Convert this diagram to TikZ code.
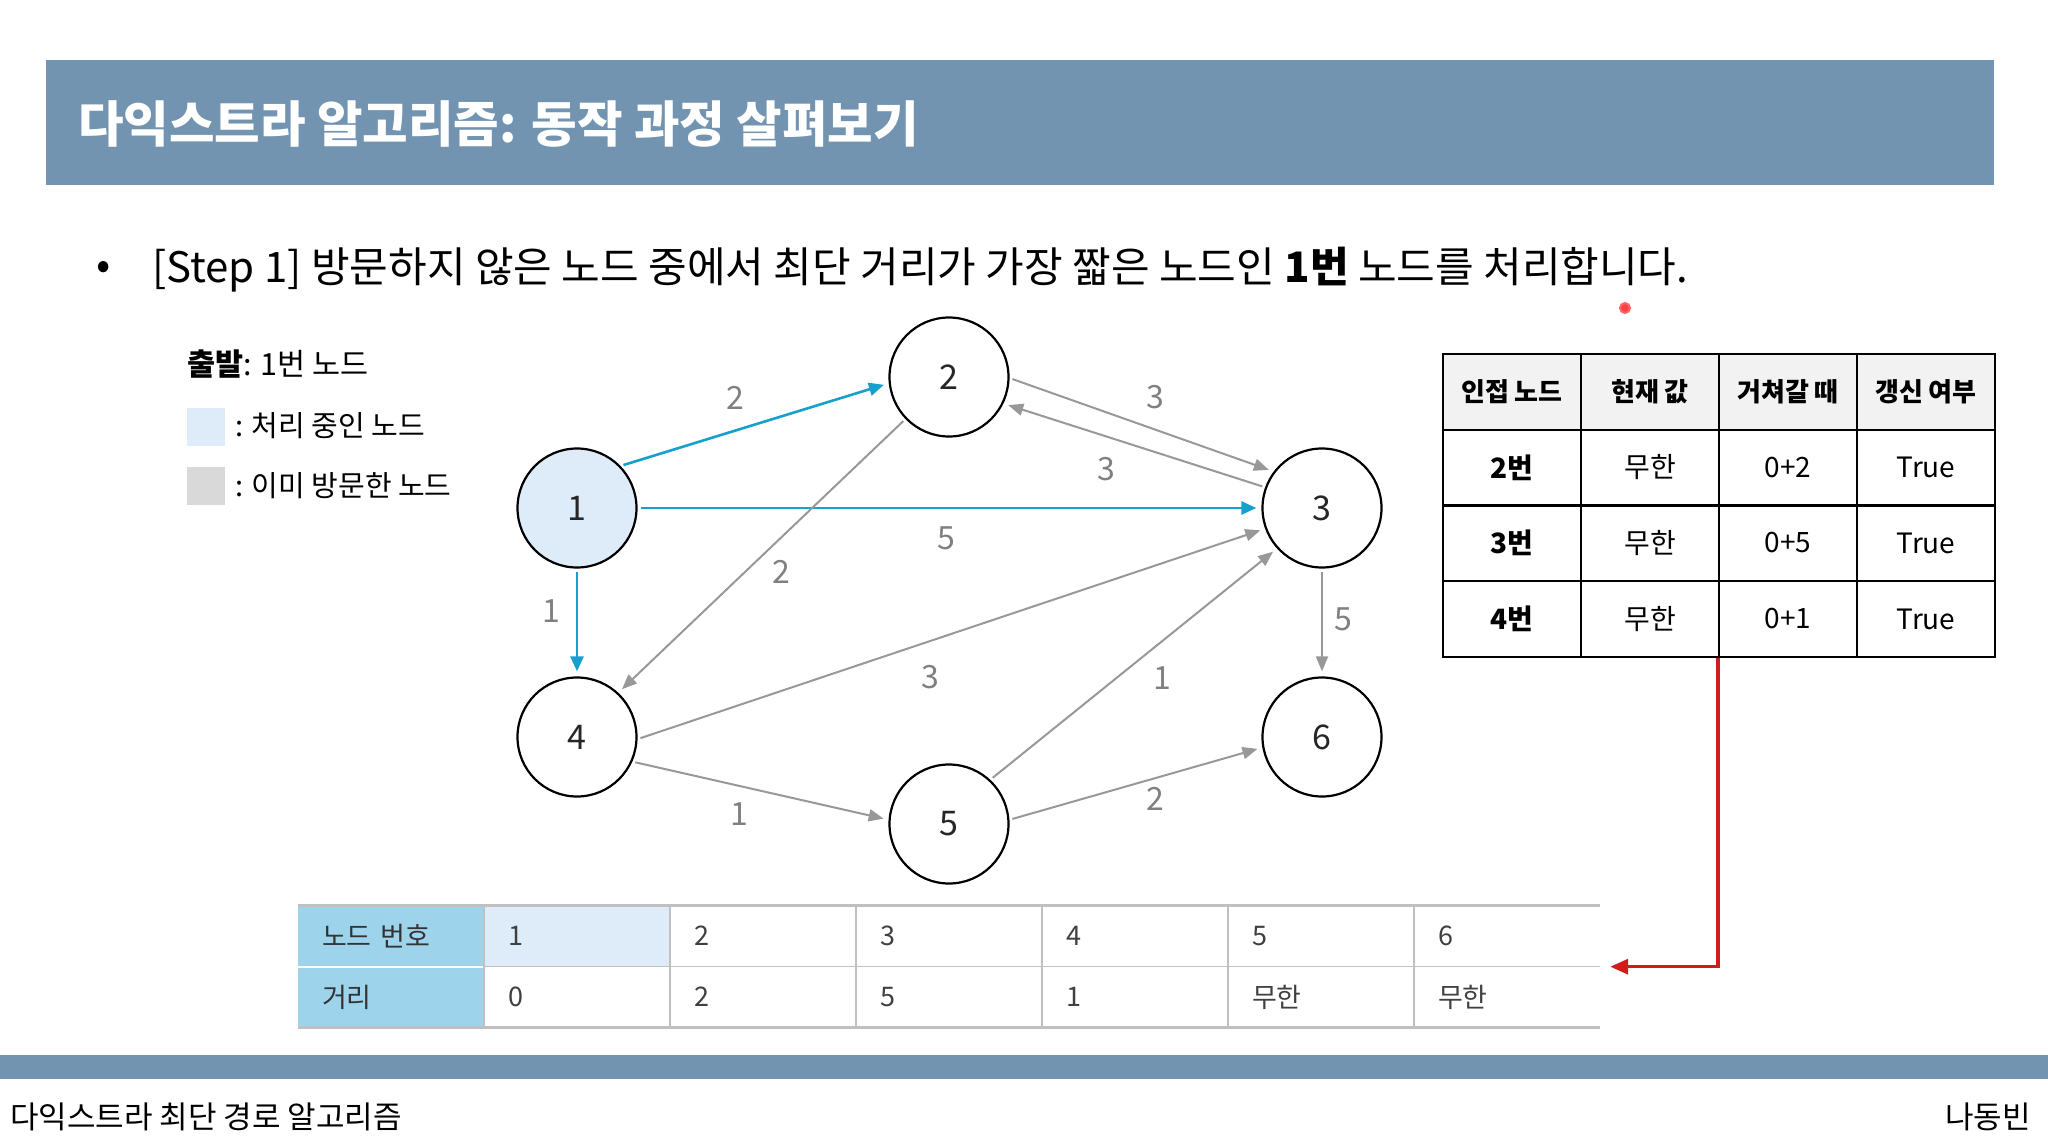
\documentclass[tikz,border=0pt]{standalone}
\usepackage{fontspec}
\setmainfont{Noto Sans CJK KR}
\usepackage{xcolor}
\usepackage{tikz}
\usetikzlibrary{arrows.meta,positioning,calc}

\definecolor{barblue}{RGB}{114,148,177}
\definecolor{edgeblue}{RGB}{24,160,204}
\definecolor{edgegray}{RGB}{152,152,152}
\definecolor{nowfill}{RGB}{221,236,248}
\definecolor{donefill}{RGB}{217,217,217}
\definecolor{headgray}{RGB}{242,242,242}
\definecolor{skyhead}{RGB}{157,212,236}
\definecolor{gridgray}{RGB}{192,192,192}
\definecolor{pathred}{RGB}{210,28,28}

\begin{document}
\begin{tikzpicture}[
      x=1pt, y=-1pt, % coordenadas em pixels da imagem
      vertex/.style={circle, draw=black, line width=2.2pt, minimum size=119pt,
        inner sep=0pt, font=\fontsize{34}{34}\selectfont, text=black!85},
      blueedge/.style={-{Triangle[length=15pt,width=13pt]}, edgeblue, line width=2.6pt,
        shorten >=5pt, shorten <=3pt},
      grayedge/.style={-{Triangle[length=15pt,width=12pt]}, edgegray, line width=2pt,
        shorten >=5pt, shorten <=3pt},
      wlabel/.style={font=\fontsize{32}{32}\selectfont, text=black!50, inner sep=0pt},
      thcell/.style={rectangle, draw=black, line width=2pt, fill=headgray,
        minimum width=138pt, minimum height=76pt, font=\fontsize{26}{26}\selectfont\bfseries},
      tdcell/.style={rectangle, draw=black, line width=2pt,
        minimum width=138pt, minimum height=76pt, font=\fontsize{28}{28}\selectfont},
      dcell/.style={rectangle, inner xsep=24pt, inner ysep=0pt, text width=138pt,
        minimum height=61pt, align=left, font=\fontsize{27}{27}\selectfont, text=black!75},
      gridline/.style={gridgray, line width=1.5pt},
      legendbox/.style={rectangle, minimum size=38pt, inner sep=0pt},
      plain/.style={anchor=west, inner sep=0pt},
      >=Stealth,
  ]
      \useasboundingbox (0,0) rectangle (2048,1148);

      % --- TITULO ---
      \node[rectangle, fill=barblue, minimum width=1948pt, minimum height=125pt,
        inner sep=0pt] (titlebar) at (1020,122.5) {};
      \node[plain, text=white, font=\fontsize{49.5}{49.5}\selectfont\bfseries] (title) at (78,124)
        {다익스트라 알고리즘: 동작 과정 살펴보기};

      % --- TEXTO PRINCIPAL ---
      \node[inner sep=0pt, font=\fontsize{42}{42}\selectfont] (dot) at (104,270) {•};
      \node[plain, font=\fontsize{42}{42}\selectfont] (step) at (152,270)
        {[Step 1] 방문하지 않은 노드 중에서 최단 거리가 가장 짧은 노드인 \textbf{1번} 노드를 처리합니다.};
      \node[circle, draw=red!60, fill=red!75, line width=2pt, minimum size=10pt,
        inner sep=0pt] (pointer) at (1625,308) {};

      % --- LEGENDA ---
      \node[plain, font=\fontsize{30.5}{30.5}\selectfont] (start) at (187,364) {\textbf{출발}: 1번 노드};
      \node[legendbox, fill=nowfill] (nowbox) at (206,427) {};
      \node[plain, font=\fontsize{29}{29}\selectfont] (nowtext) at (235,426) {: 처리 중인 노드};
      \node[legendbox, fill=donefill] (donebox) at (206,486) {};
      \node[plain, font=\fontsize{29}{29}\selectfont] (donetext) at (235,486) {: 이미 방문한 노드};

      % --- GRAFO ---
      \node[vertex, fill=nowfill] (n1) at (577,508) {1};
      \node[vertex] (n2) at (949,377) {2};
      \node[vertex] (n3) at (1322,508) {3};
      \node[vertex] (n4) at (577,737) {4};
      \node[vertex] (n5) at (949,824) {5};
      \node[vertex] (n6) at (1322,737) {6};

      \draw[blueedge] (n1.44) -- (n2.186);
      \draw[blueedge] (n1.east) -- (n3.west);
      \draw[blueedge] (n1.south) -- (n4.north);
      \draw[grayedge] (n2.-1) -- (n3.143);
      \draw[grayedge] (n3.160) -- (n2.-26);
      \draw[grayedge] (n2.224) -- (n4.47);
      \draw[grayedge] (n4.-2) -- (n3.200);
      \draw[grayedge] (n5.47) -- (n3.222);
      \draw[grayedge] (n3.south) -- (n6.north);
      \draw[grayedge] (n4.-24) -- (n5.176);
      \draw[grayedge] (n5.4) -- (n6.190);

      % pesos das arestas
      \node[wlabel] (w12) at (735,398) {2};
      \node[wlabel] (w23) at (1155,397) {3};
      \node[wlabel] (w32) at (1106,469) {3};
      \node[wlabel] (w13) at (946,538) {5};
      \node[wlabel] (w24) at (781,572) {2};
      \node[wlabel] (w14) at (551,611) {1};
      \node[wlabel] (w43) at (930,677) {3};
      \node[wlabel] (w53) at (1162,678) {1};
      \node[wlabel] (w36) at (1343,619) {5};
      \node[wlabel] (w45) at (739,814) {1};
      \node[wlabel] (w56) at (1155,799) {2};

      % --- TABELA DE VIZINHOS ---
      \node[thcell] (h1) at (1512,392) {인접 노드};
      \node[thcell] (h2) at (1650,392) {현재 값};
      \node[thcell] (h3) at (1788,392) {거쳐갈 때};
      \node[thcell] (h4) at (1926,392) {갱신 여부};

      \node[tdcell, font=\fontsize{28}{28}\selectfont\bfseries] (a1) at (1512,467.5) {2번};
      \node[tdcell] (a2) at (1650,467.5) {무한};
      \node[tdcell] (a3) at (1788,467.5) {0+2};
      \node[tdcell] (a4) at (1926,467.5) {True};

      \node[tdcell, font=\fontsize{28}{28}\selectfont\bfseries] (b1) at (1512,543) {3번};
      \node[tdcell] (b2) at (1650,543) {무한};
      \node[tdcell] (b3) at (1788,543) {0+5};
      \node[tdcell] (b4) at (1926,543) {True};

      \node[tdcell, font=\fontsize{28}{28}\selectfont\bfseries] (c1) at (1512,619) {4번};
      \node[tdcell] (c2) at (1650,619) {무한};
      \node[tdcell] (c3) at (1788,619) {0+1};
      \node[tdcell] (c4) at (1926,619) {True};

      % --- TABELA DE DISTANCIAS ---
      \node[dcell, fill=skyhead, text=black!80] (k1) at (391,936) {노드 번호};
      \node[dcell, fill=nowfill] (v1) at (577,936) {1};
      \node[dcell] (v2) at (763,936) {2};
      \node[dcell] (v3) at (949,936) {3};
      \node[dcell] (v4) at (1135,936) {4};
      \node[dcell] (v5) at (1321,936) {5};
      \node[dcell] (v6) at (1507,936) {6};

      \node[dcell, fill=skyhead, text=black!80] (k2) at (391,997) {거리};
      \node[dcell] (d1) at (577,997) {0};
      \node[dcell] (d2) at (763,997) {2};
      \node[dcell] (d3) at (949,997) {5};
      \node[dcell] (d4) at (1135,997) {1};
      \node[dcell] (d5) at (1321,997) {무한};
      \node[dcell] (d6) at (1507,997) {무한};

      \draw[gridline, line width=2.5pt] (k1.north west) -- (v6.north east);
      \draw[gridline] (v1.south west) -- (v6.south east);
      \draw[white, line width=2pt] (k1.south west) -- (k1.south east);
      \draw[gridline, line width=2.5pt] (k2.south west) -- (d6.south east);
      \draw[gridline] (v1.north west) -- (d1.south west);
      \draw[gridline] (v2.north west) -- (d2.south west);
      \draw[gridline] (v3.north west) -- (d3.south west);
      \draw[gridline] (v4.north west) -- (d4.south west);
      \draw[gridline] (v5.north west) -- (d5.south west);
      \draw[gridline] (v6.north west) -- (d6.south west);

      % seta vermelha: da tabela de vizinhos para a tabela de distancias
      \draw[-{Triangle[length=18pt,width=15pt]}, pathred, line width=3.5pt, shorten >=10pt]
        (c3.south west) |- (v6.south east);

      % --- RODAPE ---
      \node[rectangle, fill=barblue, minimum width=2048pt, minimum height=24pt,
        inner sep=0pt] (footbar) at (1024,1067) {};
      \node[plain, font=\fontsize{31}{31}\selectfont] (foottitle) at (10,1117) {다익스트라 최단 경로 알고리즘};
      \node[inner sep=0pt, anchor=east, font=\fontsize{31}{31}\selectfont] (author) at (2031,1117) {나동빈};

  \end{tikzpicture}
\end{document}
